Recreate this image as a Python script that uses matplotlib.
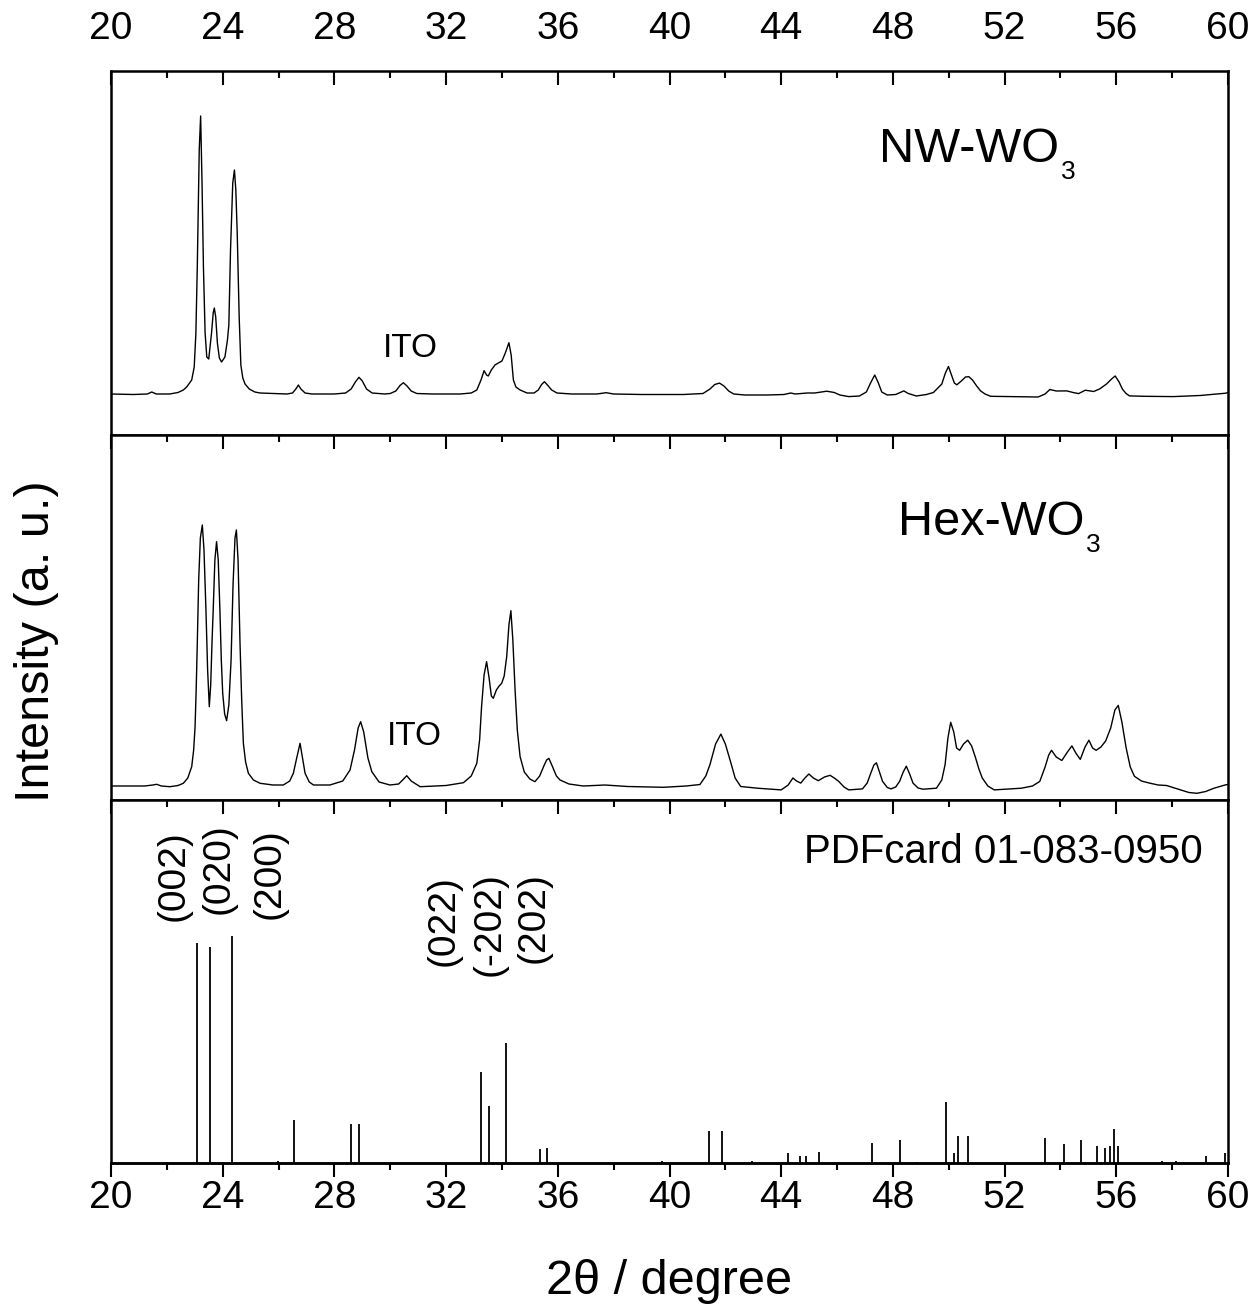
import matplotlib
matplotlib.use("Agg")
import matplotlib.pyplot as plt
from matplotlib.ticker import MultipleLocator

plt.rcParams['font.family'] = ['Liberation Sans', 'DejaVu Sans']

# ---- NW-WO3 diffractogram: 2theta (deg) and intensity (a.u.) ----
nw_tth = [20.0, 20.8, 21.3, 21.46, 21.62, 22.1, 22.4, 22.59, 22.71, 22.89, 22.98,
          23.04, 23.09, 23.13, 23.16, 23.21, 23.26, 23.31, 23.37, 23.43, 23.50,
          23.60, 23.66, 23.70, 23.75, 23.81, 23.88, 23.96, 24.08, 24.17, 24.22,
          24.28, 24.36, 24.42, 24.47, 24.52, 24.59, 24.65, 24.72, 24.80, 24.95,
          25.15, 25.34, 26.3, 26.5, 26.62, 26.71, 26.80, 26.95, 27.2, 28.0,
          28.4, 28.6, 28.75, 28.88, 29.0, 29.15, 29.35, 29.8, 30.0, 30.2,
          30.35, 30.47, 30.6, 30.75, 30.95, 31.5, 32.5, 32.9, 33.1, 33.25,
          33.36, 33.45, 33.51, 33.62, 33.75, 33.87, 34.0, 34.12, 34.25, 34.33,
          34.41, 34.5, 34.65, 34.9, 35.15, 35.3, 35.42, 35.52, 35.63, 35.78,
          35.97, 36.5, 37.4, 37.73, 38.0, 39.0, 40.5, 41.2, 41.45, 41.62,
          41.79, 41.95, 42.12, 42.3, 42.7, 43.5, 44.1, 44.34, 44.5, 44.94,
          45.2, 45.63, 45.9, 46.1, 46.42, 46.8, 47.05, 47.2, 47.35, 47.48,
          47.6, 47.8, 48.1, 48.39, 48.55, 48.84, 49.2, 49.45, 49.75, 49.88,
          49.99, 50.1, 50.2, 50.29, 50.45, 50.6, 50.72, 50.85, 51.0, 51.14,
          51.3, 51.5, 52.0, 53.2, 53.45, 53.62, 53.85, 54.23, 54.45, 54.65,
          54.89, 55.19, 55.4, 55.65, 55.85, 55.96, 56.1, 56.22, 56.35, 56.47,
          57.0, 58.04, 59.0, 59.92, 60.0]
nw_int = [41, 40.5, 41, 43, 41, 41, 42.5, 45, 48, 55, 68,
          102, 168, 235, 285, 319, 252, 168, 102, 78, 76,
          102, 122, 127, 118, 92, 77, 73, 78, 95, 110,
          185, 252, 265, 245, 202, 118, 70, 57, 51, 46,
          43, 42, 41, 42, 46, 50, 46, 42, 41, 41,
          42, 46, 53, 57.7, 54, 46, 42, 41, 41.5, 44,
          49.5, 52.3, 49, 44, 41.5, 41, 41, 42, 45, 55,
          64.3, 60, 59, 65, 70, 72, 74, 82, 92.3, 80,
          55, 48, 45, 42, 42, 45, 50.5, 53.3, 50, 45,
          42, 41, 41, 42.3, 41, 40.5, 40.5, 41.5, 46, 50.5,
          51.9, 49, 44, 41, 40, 40, 40.5, 42, 41, 42,
          42, 43.8, 42.5, 40, 38.4, 39, 43, 52, 60, 52,
          43, 40, 40.5, 44.1, 41.5, 39, 40.5, 42.5, 50.9, 62,
          68.5, 60, 52, 50.2, 54, 58, 58.3, 55, 49, 44.1,
          41, 38.7, 38.5, 38, 41, 45.5, 44, 44.1, 42.5, 41.4,
          44.8, 43.5, 46, 51, 56.5, 59, 53, 45.8, 41.5, 39.1,
          38.7, 38.4, 39.5, 41.8, 42.5]

# ---- Hex-WO3 diffractogram ----
hex_tth = [20.0, 21.2, 21.5, 21.64, 21.8, 22.11, 22.4, 22.59, 22.75, 22.89, 22.96,
           23.01, 23.05, 23.09, 23.14, 23.20, 23.27, 23.33, 23.40, 23.46, 23.52,
           23.57, 23.62, 23.66, 23.72, 23.78, 23.84, 23.90, 23.95, 24.00, 24.07,
           24.14, 24.22, 24.30, 24.37, 24.44, 24.49, 24.55, 24.62, 24.68, 24.74,
           24.82, 24.92, 25.1, 25.34, 25.8, 26.17, 26.4, 26.53, 26.65, 26.77,
           26.87, 26.95, 27.1, 27.25, 27.84, 28.3, 28.56, 28.72, 28.85, 28.94,
           29.05, 29.2, 29.34, 29.6, 29.99, 30.3, 30.48, 30.59, 30.75, 31.07,
           32.0, 32.62, 32.9, 33.10, 33.2, 33.27, 33.36, 33.45, 33.54, 33.62,
           33.69, 33.8, 33.9, 33.99, 34.08, 34.17, 34.25, 34.32, 34.39, 34.47,
           34.55, 34.65, 34.8, 35.0, 35.18, 35.35, 35.5, 35.6, 35.68, 35.8,
           35.95, 36.08, 36.4, 36.91, 37.69, 38.5, 39.78, 40.6, 41.09, 41.3,
           41.45, 41.65, 41.84, 42.0, 42.18, 42.35, 42.55, 43.15, 44.0, 44.25,
           44.42, 44.55, 44.70, 44.85, 44.99, 45.15, 45.33, 45.55, 45.75, 45.9,
           46.06, 46.25, 46.42, 46.91, 47.08, 47.21, 47.32, 47.41, 47.52, 47.63,
           47.8, 47.93, 48.1, 48.24, 48.37, 48.48, 48.6, 48.72, 48.9, 49.08,
           49.56, 49.75, 49.87, 49.97, 50.07, 50.18, 50.28, 50.39, 50.53, 50.68,
           50.82, 50.96, 51.08, 51.20, 51.4, 51.63, 52.60, 53.0, 53.26, 53.45,
           53.58, 53.68, 53.85, 54.05, 54.25, 54.41, 54.55, 54.71, 54.88, 55.02,
           55.15, 55.28, 55.45, 55.62, 55.8, 55.95, 56.07, 56.2, 56.35, 56.5,
           56.65, 56.9, 57.19, 57.5, 57.80, 58.2, 58.6, 58.89, 59.2, 59.50,
           59.92, 60.0]
hex_int = [14, 14, 15, 15.7, 14, 13.3, 14.5, 16.7, 22, 33.3, 50,
           73, 110, 156.7, 220, 262, 275, 250, 190, 130, 93.3,
           115, 160, 190, 240, 258.3, 240, 190, 140, 106.7, 86,
           79.3, 95, 140, 215, 262, 270, 240, 156.7, 100, 56.7,
           38, 26.7, 20, 16.7, 15, 15, 19, 26.7, 42, 56.7,
           40, 26.7, 18, 15, 15, 19, 30, 50, 72, 78.3,
           68, 42, 28.3, 18, 15, 16, 21, 24.3, 19, 13.3,
           14.5, 17.3, 24, 36.7, 60, 93.3, 125, 138.3, 122, 104,
           101.7, 110, 114, 116.7, 124, 143.3, 175, 189.3, 160, 110,
           70, 43.3, 28, 21, 18.3, 24, 34, 40, 41.7, 34,
           24, 20, 16, 14, 15, 13.5, 12.7, 14, 15.5, 24,
           35.5, 56, 65.9, 56, 38.9, 22, 13.5, 11.8, 10.1, 15,
           22, 19, 16.9, 22, 26, 22, 19.3, 23, 24.7, 22,
           18.6, 13, 10.1, 11.1, 17, 27, 35, 37.2, 28, 18.6,
           12.5, 11.1, 13, 18.6, 28, 33.8, 26, 16.9, 12, 10.8,
           11.8, 20, 35.5, 62, 77.7, 68, 52, 49.7, 56, 59.8,
           54, 42.2, 31, 22, 14, 10.1, 11.8, 14, 18.6, 33,
           45, 49.7, 43, 39.5, 48, 54.1, 47, 40.6, 53, 59.8,
           52, 49.7, 53, 59.1, 72, 90, 94.6, 78, 52.4, 33,
           23.7, 19, 16.9, 15, 14.5, 11, 7.5, 6.7, 8.5, 11.8,
           15.2, 15.5]

# ---- reference pattern, PDF card 01-083-0950 (relative intensity, %) ----
pdf_tth = [23.09, 23.55, 24.34, 25.97, 26.57, 28.58, 28.89, 33.24, 33.54, 34.15,
           35.36, 35.62, 39.72, 41.43, 41.88, 42.94, 44.24, 44.66, 44.88, 45.36,
           47.24, 48.24, 48.87, 49.90, 50.18, 50.32, 50.69, 53.44, 54.13, 54.74,
           55.30, 55.59, 55.77, 55.90, 56.05, 57.63, 58.15, 59.23, 59.90]
pdf_int = [97, 95, 100, 1, 19, 17, 17, 40, 25, 53,
           6, 6.5, 1, 14, 14, 1, 4.5, 3, 3, 5,
           9, 10, 0.5, 27, 4.5, 12, 12, 11, 8.5, 10,
           7.5, 6.5, 7.5, 15, 7.5, 1, 1, 3, 4.5]
hkl_labels = ['(002)', '(020)', '(200)', '(022)', '(-202)', '(202)']

major_ticks = [20, 24, 28, 32, 36, 40, 44, 48, 52, 56, 60]

W, H = 1255, 1308
fig = plt.figure(figsize=(W / 100, H / 100), dpi=100)

left = 111 / W
width = (1228 - 111) / W


def panel(top_px, bottom_px):
    ax = fig.add_axes([left, 1 - bottom_px / H, width, (bottom_px - top_px) / H])
    ax.set_xlim(20, 60)
    ax.set_yticks([])
    for s in ax.spines.values():
        s.set_linewidth(1.8)
    ax.xaxis.set_major_locator(MultipleLocator(4))
    ax.xaxis.set_minor_locator(MultipleLocator(2))
    ax.tick_params(axis='x', which='both', top=True, bottom=False,
                   labeltop=False, labelbottom=False, direction='in',
                   width=1.5, labelsize=28)
    ax.tick_params(axis='x', which='major', length=10)
    ax.tick_params(axis='x', which='minor', length=5)
    return ax


ax1 = panel(71, 435)
ax2 = panel(435, 800)
ax3 = panel(800, 1163)

# top axis labels on the upper panel
ax1.tick_params(axis='x', which='both', labeltop=True, pad=17)
ax1.set_xticks(major_ticks)
ax1.set_xticklabels([str(t) for t in major_ticks])

# bottom axis of the lower panel: outward ticks with labels
sec = ax3.secondary_xaxis('bottom')
sec.set_xticks(major_ticks)
sec.set_xticklabels([str(t) for t in major_ticks])
sec.xaxis.set_minor_locator(MultipleLocator(2))
sec.tick_params(axis='x', which='both', direction='out', width=1.5, labelsize=28, pad=2)
sec.tick_params(axis='x', which='major', length=10)
sec.tick_params(axis='x', which='minor', length=5)
sec.spines['bottom'].set_linewidth(1.8)

# traces
ax1.plot(nw_tth, nw_int, color='black', lw=1.0)
ax1.set_ylim(0, 364)
ax2.plot(hex_tth, hex_int, color='black', lw=1.0)
ax2.set_ylim(0, 365)
ax3.vlines(pdf_tth, 0, pdf_int, color='black', lw=1.3)
ax3.set_ylim(0, 160)

# sample labels
t1 = ax1.text(47.52, 273.3, 'NW-WO', fontsize=35, ha='left', va='baseline')
ax1.annotate('3', xy=(1, 0), xycoords=t1, xytext=(1, -5), textcoords='offset points',
             fontsize=19, ha='left', va='baseline')
t2 = ax2.text(48.20, 265, 'Hex-WO', fontsize=35, ha='left', va='baseline')
ax2.annotate('3', xy=(1, 0), xycoords=t2, xytext=(1, -5), textcoords='offset points',
             fontsize=19, ha='left', va='baseline')
ax1.text(30.72, 78.3, 'ITO', fontsize=24, ha='center', va='baseline')
ax2.text(30.86, 55, 'ITO', fontsize=24, ha='center', va='baseline')
ax3.text(51.94, 132.3, 'PDFcard 01-083-0950', fontsize=29, ha='center', va='baseline')

# Miller indices of the strongest reflections
hkl_x = [22.24, 23.84, 25.69, 31.90, 33.57, 35.12]
hkl_top = [146.7, 149.8, 147.6, 126.9, 128.2, 128.2]
for lab, xx, yy in zip(hkl_labels, hkl_x, hkl_top):
    ax3.text(xx, yy, lab, fontsize=28, rotation=90, ha='center', va='top')

fig.text(37 / W, 1 - 641 / H, 'Intensity (a. u.)', fontsize=35, rotation=90,
         ha='center', va='center')
fig.text(669.5 / W, 1 - 1282 / H, '2θ / degree', fontsize=35, ha='center', va='center')

fig.savefig('out.png', dpi=100)
